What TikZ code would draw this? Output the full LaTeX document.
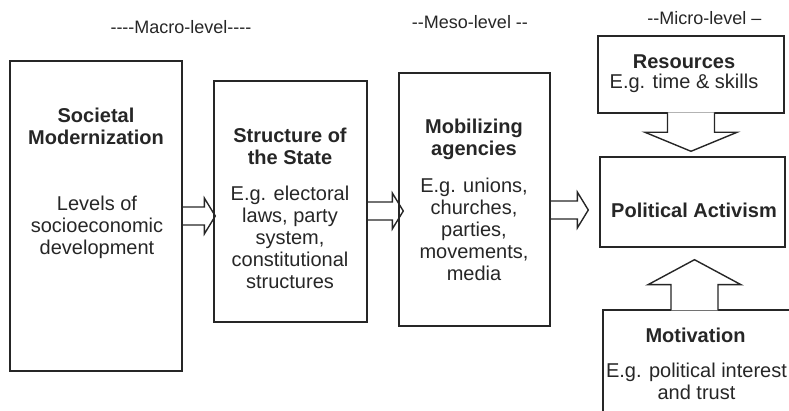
\documentclass[tikz,border=0pt]{standalone}
\usepackage{fontspec}
\setmainfont{Liberation Sans}[Ligatures=TeXOff]
\usetikzlibrary{calc}

\begin{document}
\begin{tikzpicture}[x=0.5pt,y=-0.5pt,
      font=\fontsize{10}{11}\selectfont,
      line width=0.7pt,color=black!85,
      box/.style={draw,rectangle,inner sep=0pt},
      head/.style={font=\fontsize{10}{11}\selectfont\bfseries,align=center,inner sep=0pt},
      body/.style={align=center,inner sep=0pt},
      level/.style={font=\fontsize{9}{10}\selectfont,inner sep=0pt},
      fatright/.style={to path={let \p1=(\tikztostart),\p2=(\tikztotarget) in
         (\x1,\y1+4.5pt) -- (\x2-5.5pt,\y1+4.5pt) -- (\x2-5.5pt,\y1+9pt) -- (\x2,\y1)
         -- (\x2-5.5pt,\y1-9pt) -- (\x2-5.5pt,\y1-4.5pt) -- (\x1,\y1-4.5pt)}},
      fatdown/.style={fill=white,to path={let \p1=(\tikztostart),\p2=(\tikztotarget) in
         (\x1-11.75pt,\y1+0.6pt) -- (\x1-11.75pt,\y2+9.5pt) -- (\x1-23pt,\y2+9.5pt) -- (\x1,\y2)
         -- (\x1+23pt,\y2+9.5pt) -- (\x1+11.75pt,\y2+9.5pt) -- (\x1+11.75pt,\y1+0.6pt)}},
      fatup/.style={fill=white,to path={let \p1=(\tikztostart),\p2=(\tikztotarget) in
         (\x1-11.75pt,\y1-0.6pt) -- (\x1-11.75pt,\y2-12.5pt) -- (\x1-23.25pt,\y2-12.5pt) -- (\x1,\y2)
         -- (\x1+23.25pt,\y2-12.5pt) -- (\x1+11.75pt,\y2-12.5pt) -- (\x1+11.75pt,\y1-0.6pt)}}]
    \useasboundingbox (0,0) rectangle (789,411);
    \clip (0,0) rectangle (789,411);

    % level headings
    \node[level] (macro) at (181,27) {----Macro-level----};
    \node[level] (meso) at (470,22) {--Meso-level --};
    \node[level] (micro) at (704.5,18) {--Micro-level –};

    % boxes
    \node[box,minimum width=86pt,minimum height=155pt] (soc) at (96,216) {};
    \node[box,minimum width=76.5pt,minimum height=120.5pt] (state) at (290.5,201.5) {};
    \node[box,minimum width=75.5pt,minimum height=126.5pt] (mob) at (474.5,199.5) {};
    \node[box,minimum width=93pt,minimum height=38.5pt] (res) at (691,74.5) {};
    \node[box,minimum width=92.5pt,minimum height=45pt] (act) at (692.5,202) {};
    \node[box,minimum width=96pt,minimum height=75pt] (mot) at (699,385) {};

    \node[head] (soctitle) at (96,126) {Societal\\Modernization};
    \node[body] (socbody) at (97,227) {Levels of\\socioeconomic\\development};
    \node[head] (statetitle) at (290,146) {Structure of\\the State};
    \node[body] (statebody) at (290,237) {E.g. electoral\\laws, party\\system,\\constitutional\\structures};
    \node[head] (mobtitle) at (474,139) {Mobilizing\\agencies};
    \node[body] (mobbody) at (474,229) {E.g. unions,\\churches,\\parties,\\movements,\\media};
    \node[head] (restitle) at (684,62) {Resources};
    \node[body] (resbody) at (684,83) {E.g. time \& skills};
    \node[head] (acttitle) at (694,210) {Political Activism};
    \node[head] (mottitle) at (695.5,335) {Motivation};
    \node[body] (motbody) at (696.5,381) {E.g. political interest\\and trust};

    % block arrows
    \draw[fatright] (soc.east) to ([xshift=1pt]state.west);
    \draw[fatright] ([yshift=-4.75pt]state.east) to ([xshift=2.5pt]mob.west);
    \draw[fatright] ([yshift=-5.25pt]mob.east) to ([xshift=-5.5pt]act.west);
    \draw[fatdown] (res.south) to ([yshift=2.5pt]act.north);
    \draw[fatup] ([xshift=-2.25pt]mot.north) to ([yshift=-6pt]act.south);
  \end{tikzpicture}
\end{document}
